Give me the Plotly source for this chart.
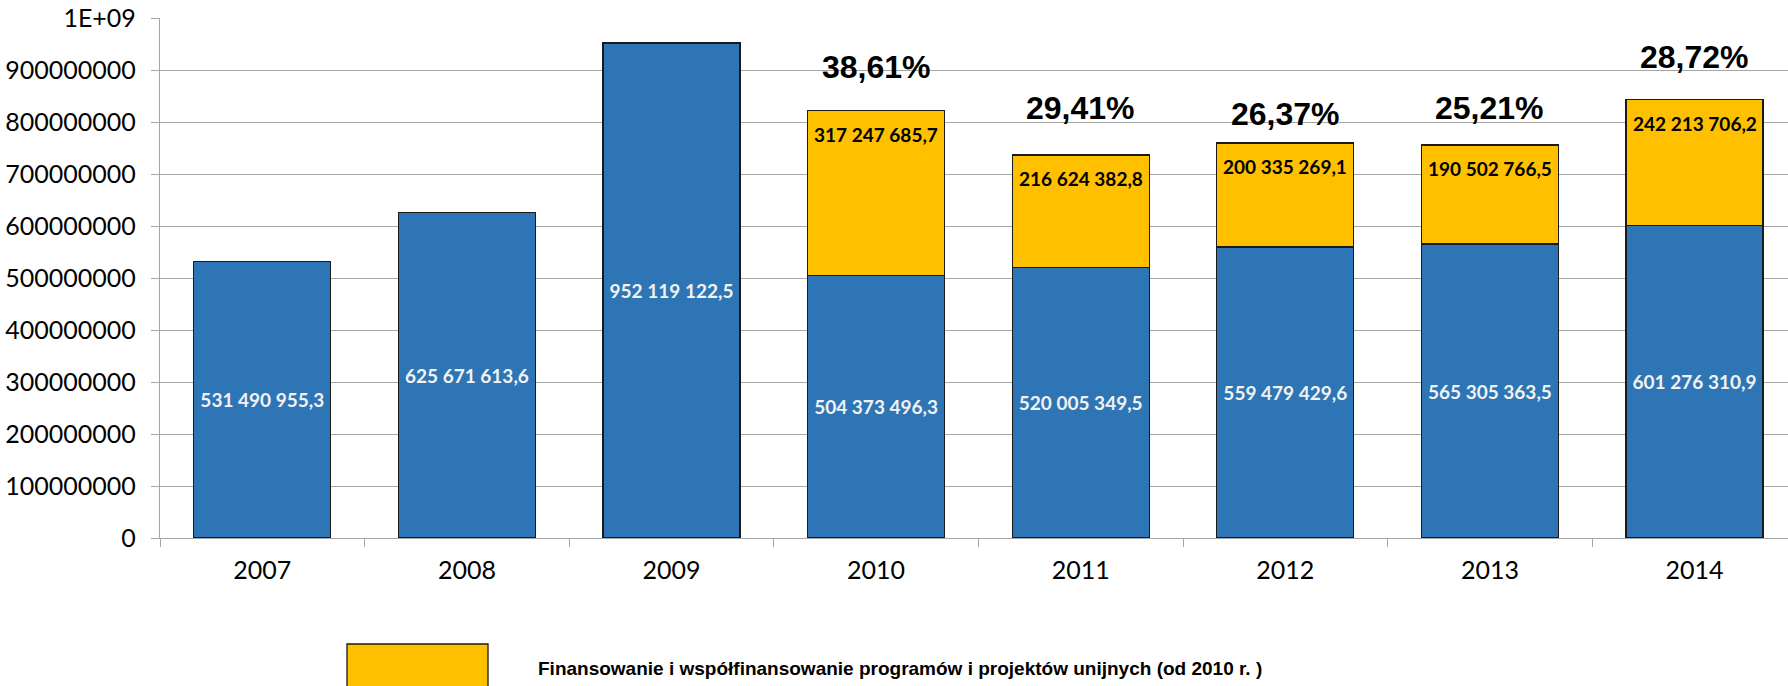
import plotly.graph_objects as go

# Annual spending, with the EU programme (co)financing share stacked on top from 2010
years = ["2007", "2008", "2009", "2010", "2011", "2012", "2013", "2014"]
base_values = [531490955.3, 625671613.6, 952119122.5, 504373496.3,
               520005349.5, 559479429.6, 565305363.5, 601276310.9]
eu_values = [None, None, None, 317247685.7, 216624382.8,
             200335269.1, 190502766.5, 242213706.2]
# heights (in axis units) at which the share labels are printed
share_label_y = [None, None, None, 906e6, 827e6, 816e6, 827e6, 925e6]

y_tick_values = [i * 100000000 for i in range(11)]
y_tick_labels = ["0", "100000000", "200000000", "300000000", "400000000",
                 "500000000", "600000000", "700000000", "800000000",
                 "900000000", "1E+09"]

legend_label = "Finansowanie i współfinansowanie programów i projektów unijnych (od 2010 r. )"

BLUE = "#2E75B6"
YELLOW = "#FFC000"
GRID = "#A6A6A6"

W, H = 1788, 686
ML, MR, MT, MB = 160, 0, 18, 148
plot_w = W - ML - MR
plot_h = H - MT - MB
cat_px = 204.6
x_end = -0.5 + plot_w / cat_px


def fmt(v):
    return f"{v:,.1f}".replace(",", " ").replace(".", ",")


def px_x(px):
    return (px - ML) / plot_w


def px_y(py):
    return (H - MB - py) / plot_h


fig = go.Figure()
fig.add_trace(go.Bar(
    x=years, y=base_values, width=0.67,
    marker=dict(color=BLUE, line=dict(color="#1a1a1a", width=1.3)),
    text=[fmt(v) for v in base_values],
    textposition="inside", insidetextanchor="middle",
    textfont=dict(family="Lato", size=19, color="#F2F2F2", weight="bold"),
    textangle=0, showlegend=False, hoverinfo="skip",
))
fig.add_trace(go.Bar(
    x=years, y=eu_values, width=0.67,
    marker=dict(color=YELLOW, line=dict(color="#1a1a1a", width=1.3)),
    showlegend=False, hoverinfo="skip",
))

for i, (b, e, ly) in enumerate(zip(base_values, eu_values, share_label_y)):
    if e is None:
        continue
    total = b + e
    # value label just inside the top of the EU segment
    fig.add_annotation(
        x=i, y=total, yshift=-24, text=fmt(e), showarrow=False,
        yanchor="middle", xanchor="center",
        font=dict(family="Lato", size=19, color="#000000", weight="bold"),
    )
    # EU share of the year's total
    share = e / total * 100
    fig.add_annotation(
        x=i, y=ly, text=f"{share:.2f}%".replace(".", ","), showarrow=False,
        yanchor="middle", xanchor="center",
        font=dict(family="Liberation Sans", size=32, color="#000000", weight="bold"),
    )

# legend entry for the EU series
fig.add_shape(
    type="rect", xref="paper", yref="paper",
    x0=px_x(347), x1=px_x(488), y0=px_y(700), y1=px_y(644),
    fillcolor=YELLOW, line=dict(color="#1a1a1a", width=1.3),
)
fig.add_annotation(
    xref="paper", yref="paper", x=px_x(536), y=px_y(668),
    xanchor="left", yanchor="middle", showarrow=False, text=legend_label,
    font=dict(family="Liberation Sans", size=19, color="#000000", weight="bold"),
)

fig.update_layout(
    width=W, height=H,
    margin=dict(l=ML, r=MR, t=MT, b=MB, pad=0),
    barmode="stack",
    paper_bgcolor="white", plot_bgcolor="white",
    font=dict(family="Lato", color="#000000"),
    uniformtext=dict(mode=False),
)
fig.update_xaxes(
    type="category", range=[-0.5, x_end],
    showgrid=False, showline=True, linecolor=GRID, linewidth=1.3,
    ticks="outside", tickson="boundaries", ticklen=8, tickcolor=GRID, tickwidth=1.3,
    tickfont=dict(family="Lato", size=25, color="#000000"),
    ticklabelstandoff=10,
)
fig.update_yaxes(
    range=[0, 1e9], tickvals=y_tick_values, ticktext=y_tick_labels,
    showgrid=True, gridcolor=GRID, gridwidth=1.3,
    showline=True, linecolor=GRID, linewidth=1.3,
    ticks="outside", ticklen=8, tickcolor=GRID, tickwidth=1.3,
    tickfont=dict(family="Lato", size=25, color="#000000"),
    ticklabelstandoff=10, zeroline=False,
)

fig.write_html("out.html")
